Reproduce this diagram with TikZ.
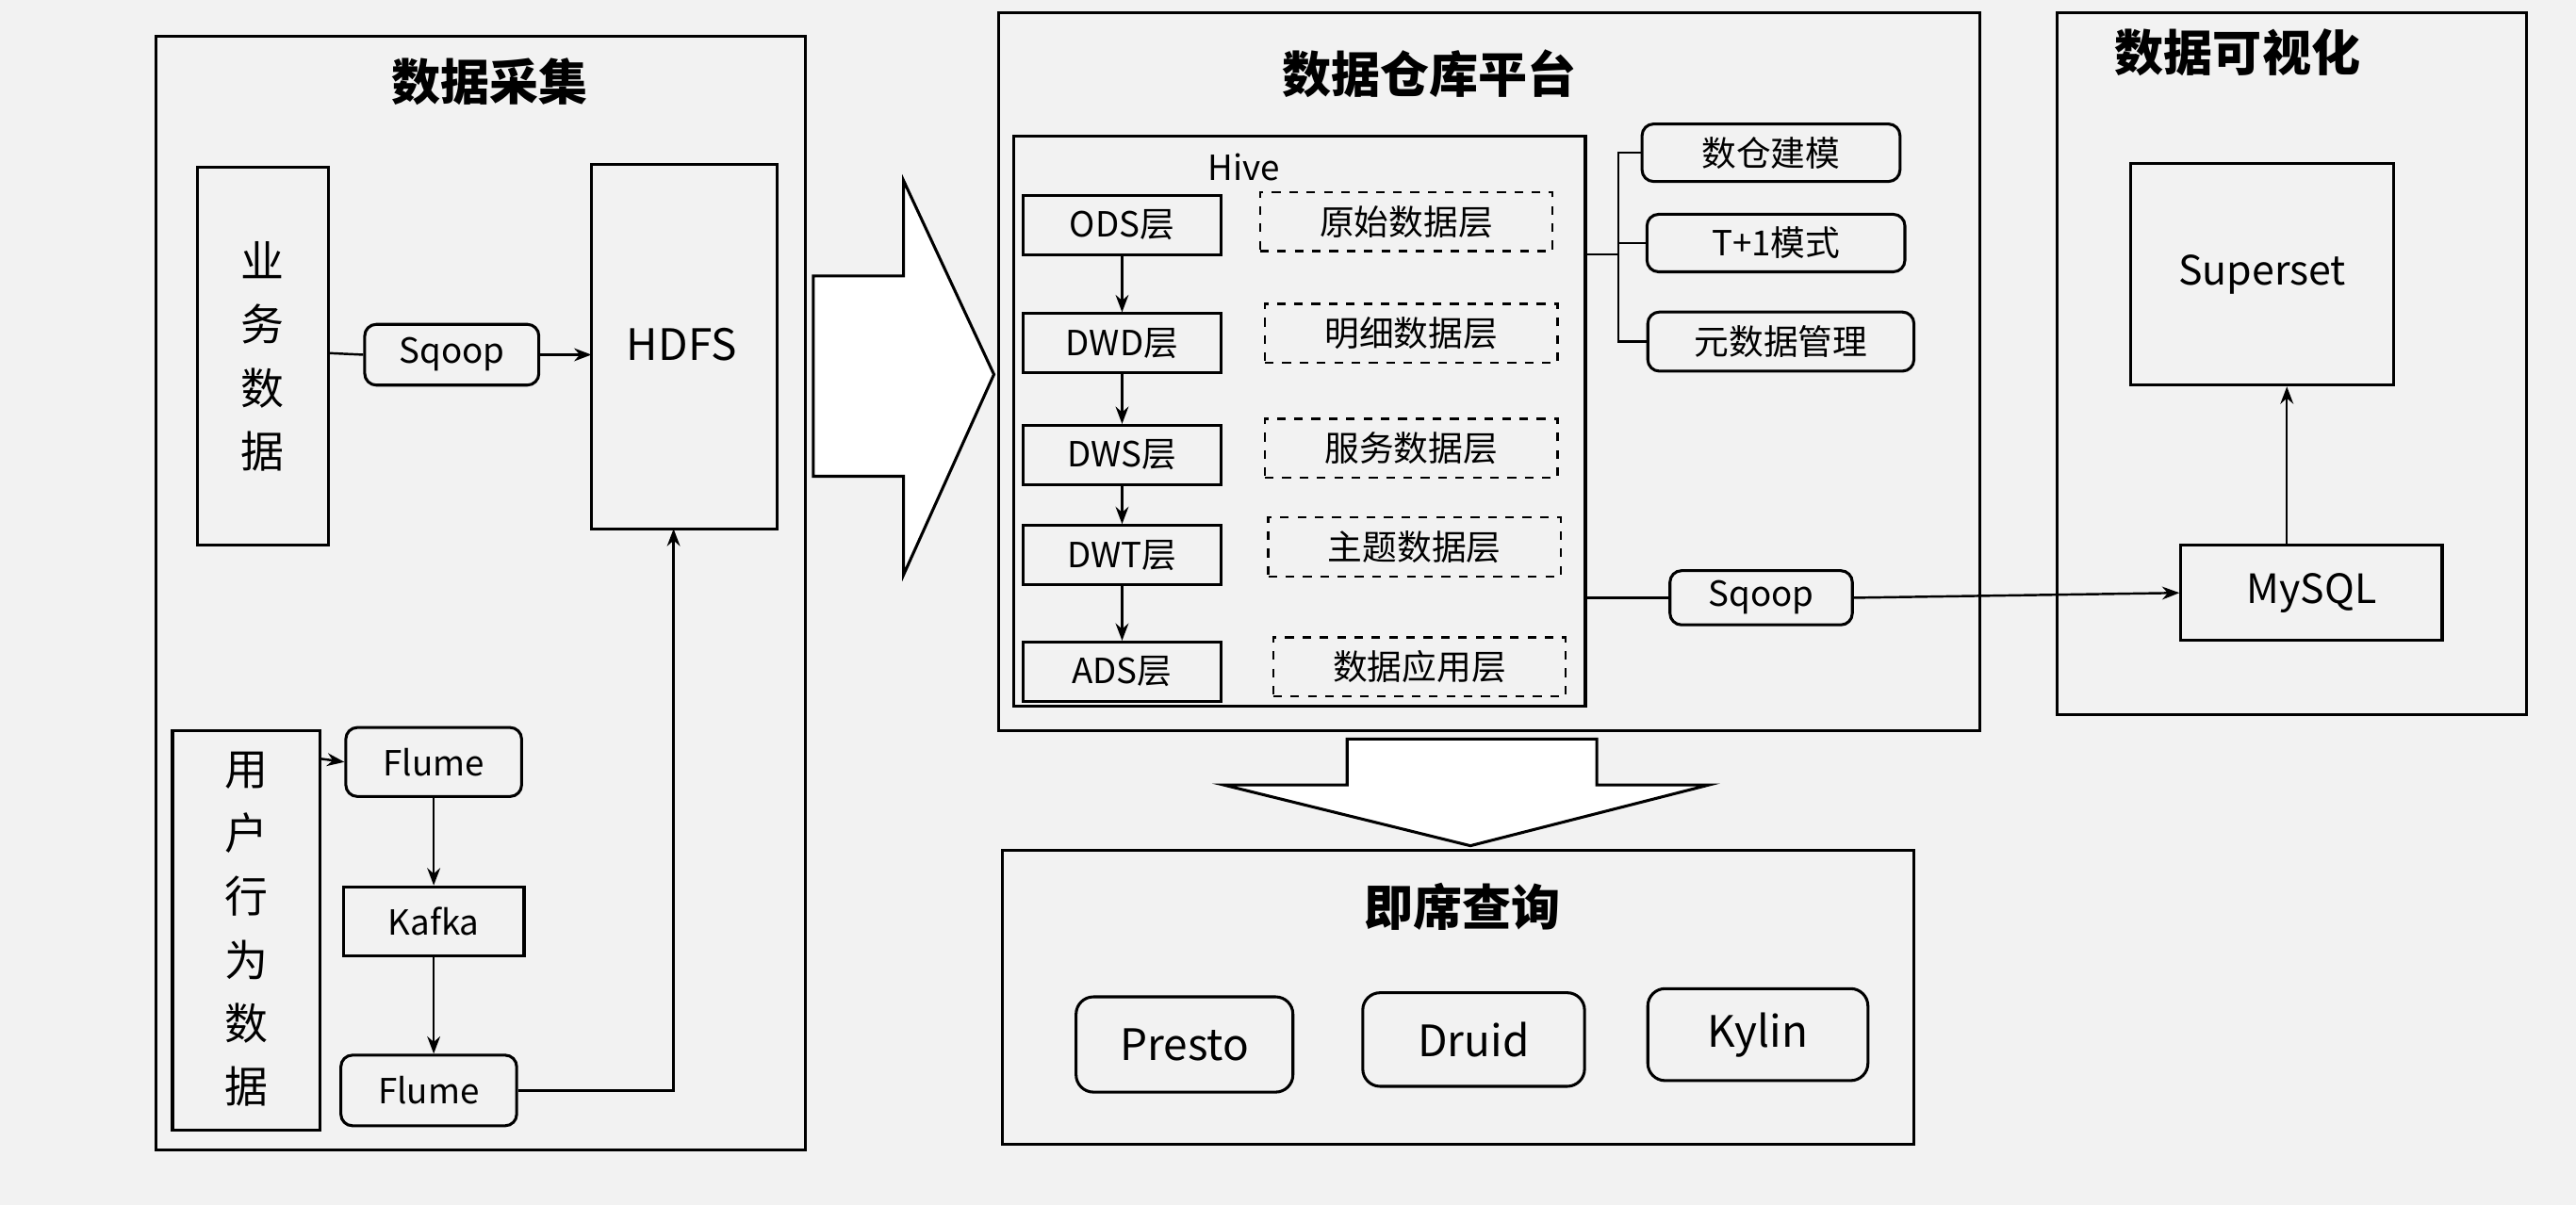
\documentclass[tikz,border=0pt]{standalone}
\usepackage{fontspec}
\setmainfont{Noto Sans CJK SC}
\usetikzlibrary{arrows.meta}
\begin{document}
\begin{tikzpicture}[x=0.02cm,y=-0.02cm,
  box/.style={draw,line width=1pt},
  rbox/.style={draw,line width=1pt,rounded corners=4pt},
  dbox/.style={draw,line width=0.8pt,dashed},
  lbl/.style={font=\fontsize{12}{14}\selectfont},
  ttl/.style={font=\fontsize{17}{20}\selectfont\bfseries},
  arr/.style={-{Stealth[length=6pt]},line width=0.8pt},
  ln/.style={line width=0.8pt}]
\fill[gray!10] (0,0) rectangle (1568,734);
\useasboundingbox (0,0) rectangle (1568,734);
% panels
\draw[box] (95,22) rectangle (490,700);
\node[ttl] (t1) at (298,50) {数据采集};
\draw[box] (608,8) rectangle (1205,445);
\node[ttl] (t2) at (870,45) {数据仓库平台};
\draw[box] (1252,8) rectangle (1538,435);
\node[ttl] (t3) at (1362,32) {数据可视化};
\draw[box] (610,518) rectangle (1165,697);
\node[ttl] (t4) at (890,552) {即席查询};
% left
\draw[box] (120,102) rectangle (200,332);
\node[lbl,align=center,font=\fontsize{15}{22}\selectfont] (yw) at (160,217) {业\\务\\数\\据};
\coordinate (ywr) at (200,215);
\node[rbox,lbl,minimum width=106*0.02cm,minimum height=37*0.02cm] (sq1) at (275,216) {Sqoop};
\draw[box] (360,100) rectangle (473,322);
\node[lbl,font=\fontsize{15}{18}\selectfont] (hdfs) at (415,210) {HDFS};
\coordinate (hl) at (360,216);
\coordinate (hb) at (410,322);
\draw[box] (105,445) rectangle (195,688);
\node[align=center,font=\fontsize{15}{22}\selectfont] (yh) at (150,566) {用\\户\\行\\为\\数\\据};
\coordinate (yhr) at (195,462);
\node[rbox,lbl,minimum width=107*0.02cm,minimum height=42*0.02cm] (f1) at (264,464) {Flume};
\node[box,lbl,minimum width=110*0.02cm,minimum height=42*0.02cm] (kf) at (264,561) {Kafka};
\node[rbox,lbl,minimum width=107*0.02cm,minimum height=43*0.02cm] (f2) at (261,664) {Flume};
\draw[ln] (ywr) -- (sq1.west);
\draw[arr] (sq1.east) -- (hl);
\draw[arr] (yhr) -- (f1.west);
\draw[arr] (f1.south) -- (kf.north);
\draw[arr] (kf.south) -- (kf.south |- f2.north);
\draw[arr] (f2.east) -| (hb);
% big right arrow
\draw[line width=1pt,fill=white] (495,168) -- (550,168) -- (550,110) -- (605,228) -- (550,350) -- (550,290) -- (495,290) -- cycle;
% hive
\draw[box] (617,83) rectangle (965,430);
\node[lbl] (hive) at (757,102) {Hive};
\foreach \n/\t/\y in {ods/ODS层/137,dwd/DWD层/209,dws/DWS层/277,dwt/DWT层/338,ads/ADS层/409}
  \node[box,lbl,minimum width=120*0.02cm,minimum height=36*0.02cm] (\n) at (683,\y) {\t};
\draw[arr] (ods) -- (dwd); \draw[arr] (dwd) -- (dws); \draw[arr] (dws) -- (dwt); \draw[arr] (dwt) -- (ads);
\foreach \n/\t/\x/\y in {y1/原始数据层/856/135,y2/明细数据层/859/203,y3/服务数据层/859/273,y4/主题数据层/861/333,y5/数据应用层/864/406}
  \node[dbox,lbl,minimum width=178*0.02cm,minimum height=36*0.02cm] (\n) at (\x,\y) {\t};
\node[rbox,lbl,minimum width=157*0.02cm,minimum height=35*0.02cm] (m1) at (1078,93) {数仓建模};
\node[rbox,lbl,minimum width=157*0.02cm,minimum height=35*0.02cm] (m2) at (1081,148) {T+1模式};
\node[rbox,lbl,minimum width=162*0.02cm,minimum height=36*0.02cm] (m3) at (1084,208) {元数据管理};
\coordinate (hr) at (965,155);
\coordinate (br) at (985,155);
\draw[ln] (hr) -- (br);
\draw[ln] (m1.west) -| (985,208) -- (m3.west);
\draw[ln] (br) |- (m2.west);
\node[rbox,lbl,minimum width=111*0.02cm,minimum height=33*0.02cm] (sq2) at (1072,364) {Sqoop};
\coordinate (hr2) at (965,364);
\draw[ln] (hr2) -- (sq2.west);
% right
\node[box,lbl,minimum width=160*0.02cm,minimum height=135*0.02cm,font=\fontsize{14}{16}\selectfont] (ss) at (1377,167) {Superset};
\node[box,lbl,minimum width=159*0.02cm,minimum height=58*0.02cm,font=\fontsize{14}{16}\selectfont] (my) at (1407,361) {MySQL};
\draw[arr] (sq2.east) -- (my.west);
\draw[arr] (my.north -| 1392,0) -- (ss.south -| 1392,0);
% down arrow
\draw[line width=1pt,fill=white] (820,450) -- (972,450) -- (972,478) -- (1040,478) -- (895,515) -- (745,478) -- (820,478) -- cycle;
% bottom
\node[rbox,minimum width=132*0.02cm,minimum height=58*0.02cm,font=\fontsize{15}{18}\selectfont,rounded corners=6pt] (pr) at (721,636) {Presto};
\node[rbox,minimum width=135*0.02cm,minimum height=57*0.02cm,font=\fontsize{15}{18}\selectfont,rounded corners=6pt] (dr) at (897,633) {Druid};
\node[rbox,minimum width=134*0.02cm,minimum height=56*0.02cm,font=\fontsize{15}{18}\selectfont,rounded corners=6pt] (ky) at (1070,630) {Kylin};
\end{tikzpicture}
\end{document}
